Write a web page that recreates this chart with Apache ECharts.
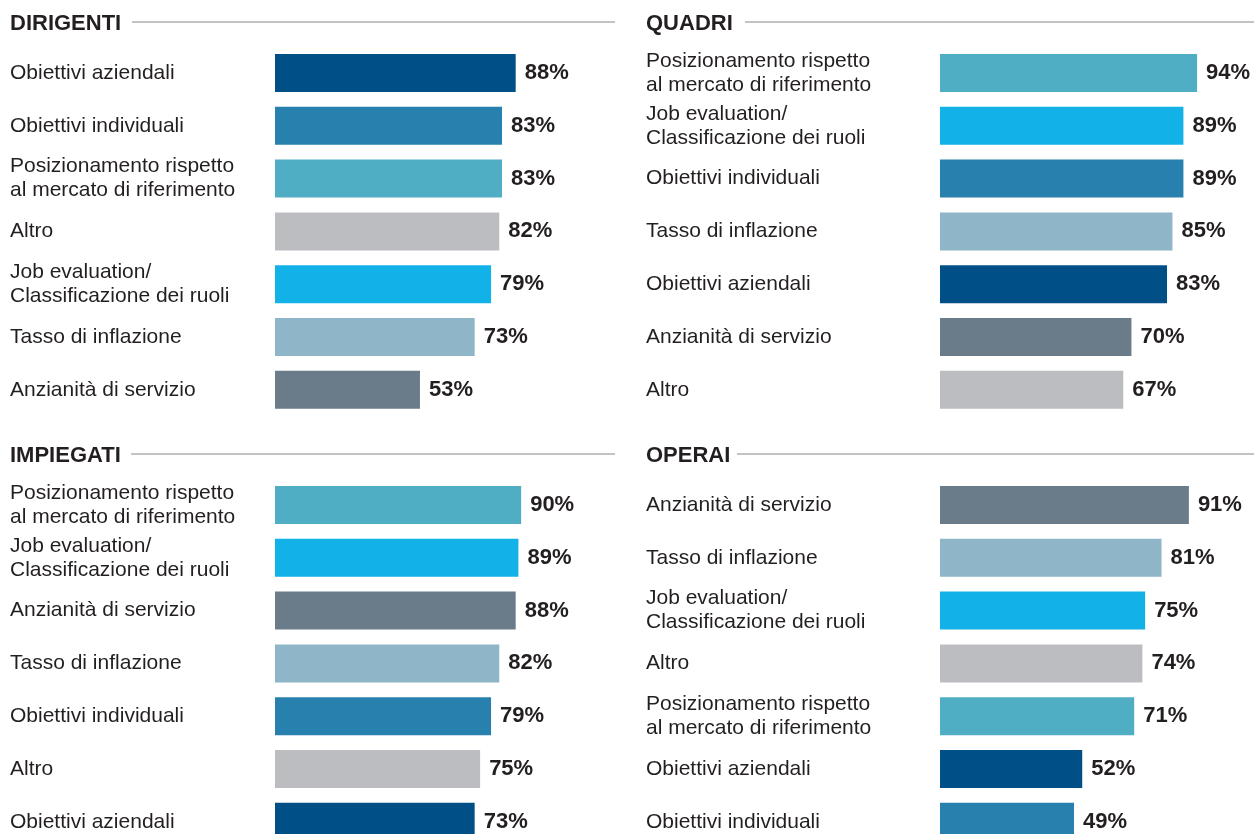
<!DOCTYPE html>
<html>
<head>
<meta charset="utf-8">
<style>
  html, body { margin: 0; padding: 0; background: #ffffff; overflow: hidden; }
  #chart { width: 1254px; height: 870px; }
</style>
<script src="https://cdn.jsdelivr.net/npm/echarts@6/dist/echarts.min.js"></script>
</head>
<body>
<div id="chart"></div>
<script>
// Panel titles
const panelTitles = ['DIRIGENTI', 'QUADRI', 'IMPIEGATI', 'OPERAI'];

// Categories per panel (top to bottom) and their percentages
const dirigentiCategories = ['Obiettivi aziendali', 'Obiettivi individuali', 'Posizionamento rispetto\nal mercato di riferimento', 'Altro', 'Job evaluation/\nClassificazione dei ruoli', 'Tasso di inflazione', 'Anzianità di servizio'];
const dirigentiValues = [88, 83, 83, 82, 79, 73, 53];

const quadriCategories = ['Posizionamento rispetto\nal mercato di riferimento', 'Job evaluation/\nClassificazione dei ruoli', 'Obiettivi individuali', 'Tasso di inflazione', 'Obiettivi aziendali', 'Anzianità di servizio', 'Altro'];
const quadriValues = [94, 89, 89, 85, 83, 70, 67];

const impiegatiCategories = ['Posizionamento rispetto\nal mercato di riferimento', 'Job evaluation/\nClassificazione dei ruoli', 'Anzianità di servizio', 'Tasso di inflazione', 'Obiettivi individuali', 'Altro', 'Obiettivi aziendali'];
const impiegatiValues = [90, 89, 88, 82, 79, 75, 73];

const operaiCategories = ['Anzianità di servizio', 'Tasso di inflazione', 'Job evaluation/\nClassificazione dei ruoli', 'Altro', 'Posizionamento rispetto\nal mercato di riferimento', 'Obiettivi aziendali', 'Obiettivi individuali'];
const operaiValues = [91, 81, 75, 74, 71, 52, 49];

// One colour per category, shared across panels
const categoryColors = {
  'Obiettivi aziendali': '#005087',
  'Obiettivi individuali': '#2780ae',
  'Posizionamento rispetto\nal mercato di riferimento': '#4fadc4',
  'Altro': '#bcbdc1',
  'Job evaluation/\nClassificazione dei ruoli': '#12b2e8',
  'Tasso di inflazione': '#8fb5c8',
  'Anzianità di servizio': '#6a7b89'
};

const panels = [
  { cats: dirigentiCategories, vals: dirigentiValues },
  { cats: quadriCategories, vals: quadriValues },
  { cats: impiegatiCategories, vals: impiegatiValues },
  { cats: operaiCategories, vals: operaiValues }
];

// Layout of the four panels
const FONT = '"Liberation Sans", Arial, sans-serif';
const TEXT = '#231f20';
const layout = [
  { labelX: 10,  barX: 275, top: 46.6,  titleY: 23,  lineFrom: 132, lineTo: 615 },
  { labelX: 646, barX: 940, top: 46.6,  titleY: 23,  lineFrom: 745, lineTo: 1254 },
  { labelX: 10,  barX: 275, top: 478.6, titleY: 455, lineFrom: 131, lineTo: 615 },
  { labelX: 646, barX: 940, top: 478.6, titleY: 455, lineFrom: 737, lineTo: 1254 }
];
const ROW = 52.8;
const FULL = 273.5; // pixel width of 100%

const grid = [], xAxis = [], yAxis = [], series = [], graphic = [];

panels.forEach((p, i) => {
  const L = layout[i];
  grid.push({ left: L.barX, top: L.top, width: FULL, height: ROW * p.cats.length, containLabel: false });
  xAxis.push({ type: 'value', gridIndex: i, min: 0, max: 100, show: false });
  yAxis.push({
    type: 'category', gridIndex: i, inverse: true, data: p.cats,
    axisLine: { show: false }, axisTick: { show: false }, splitLine: { show: false },
    axisLabel: {
      align: 'left', margin: L.barX - L.labelX,
      color: TEXT, fontFamily: FONT, fontSize: 21, lineHeight: 24,
      padding: [3, 0, 0, 0]
    }
  });
  series.push({
    type: 'bar', xAxisIndex: i, yAxisIndex: i, barWidth: 38,
    data: p.vals.map((v, k) => ({ value: v, itemStyle: { color: categoryColors[p.cats[k]] } })),
    label: {
      show: true, position: 'right', distance: 9, formatter: '{c}%',
      color: TEXT, fontFamily: FONT, fontSize: 22, fontWeight: 'bold',
      padding: [3, 0, 0, 0]
    },
    animation: false
  });
  graphic.push({
    type: 'text', left: L.labelX, top: L.titleY - 10,
    style: { text: panelTitles[i], fill: TEXT, font: 'bold 22px ' + FONT }
  });
  graphic.push({
    type: 'line', shape: { x1: L.lineFrom, y1: L.titleY - 1, x2: L.lineTo, y2: L.titleY - 1 },
    style: { stroke: '#c3c3c5', lineWidth: 2 }
  });
});

const chart = echarts.init(document.getElementById('chart'), null, { renderer: 'canvas' });
chart.setOption({
  backgroundColor: '#ffffff',
  animation: false,
  grid, xAxis, yAxis, series, graphic
});
</script>
</body>
</html>
